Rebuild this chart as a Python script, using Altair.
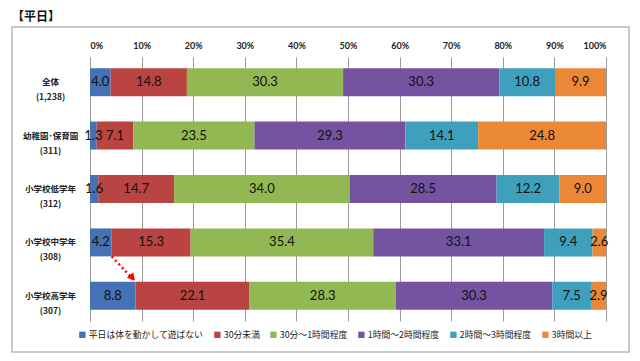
import altair as alt
import pandas as pd

title_text = "【平日】"
cats = ["全体", "幼稚園･保育園", "小学校低学年", "小学校中学年", "小学校高学年"]
ns = ["1,238", "311", "312", "308", "307"]
series = ["平日は体を動かして遊ばない", "30分未満", "30分～1時間程度",
          "1時間～2時間程度", "2時間～3時間程度", "3時間以上"]
s0 = [4.0, 1.3, 1.6, 4.2, 8.8]
s1 = [14.8, 7.1, 14.7, 15.3, 22.1]
s2 = [30.3, 23.5, 34.0, 35.4, 28.3]
s3 = [30.3, 29.3, 28.5, 33.1, 30.3]
s4 = [10.8, 14.1, 12.2, 9.4, 7.5]
s5 = [9.9, 24.8, 9.0, 2.6, 2.9]
colors = ["#4472B4", "#B94441", "#92B853", "#7454A0", "#3FA0BE", "#EA8838"]

all_series = [s0, s1, s2, s3, s4, s5]
row_labels = [f"{c}|({n})" for c, n in zip(cats, ns)]

rows = []
for si, (name, vals) in enumerate(zip(series, all_series)):
    for ci, lab in enumerate(row_labels):
        rows.append({"cat": lab, "series": name, "order": si, "value": vals[ci]})
df = pd.DataFrame(rows)

totals = [sum(v[i] for v in all_series) for i in range(len(cats))]
arrow = pd.DataFrame({
    "a": [row_labels[3]], "b": [row_labels[4]],
    "x1": [s0[3] / totals[3]], "x2": [s0[4] / totals[4]],
})

W, H = 516, 264


def yscale():
    return alt.Scale(domain=row_labels, paddingInner=0.476, paddingOuter=0.21)


base = alt.Chart(df).transform_stack(
    stack="value", groupby=["cat"], as_=["x0", "x1"],
    sort=[alt.SortField("order", "ascending")], offset="normalize",
).transform_calculate(mid="(datum.x0 + datum.x1) / 2")

bars = base.mark_bar().encode(
    y=alt.Y("cat:N", sort=None, scale=yscale(), title=None,
            axis=alt.Axis(labelExpr="split(datum.label, '|')", labelAlign="center",
                          labelPadding=40, ticks=False, domainColor="#999999",
                          labelFont="Noto Sans CJK JP", labelFontWeight="bold",
                          labelFontSize=8.5, labelLineHeight=15, labelColor="#222222",
                          labelBaseline="middle")),
    x=alt.X("x0:Q", scale=alt.Scale(domain=[0, 1]), title=None,
            axis=alt.Axis(orient="top", format=".0%", values=[i / 10 for i in range(11)],
                          domain=False, ticks=False, grid=True, gridColor="#9a9a9a",
                          labelFont="Lato", labelFontWeight="bold", labelFontSize=9,
                          labelColor="#222222", labelPadding=7)),
    x2="x1:Q",
    color=alt.Color("series:N", sort=series,
                    scale=alt.Scale(domain=series, range=colors),
                    legend=alt.Legend(orient="none", legendX=-12, legendY=H + 9,
                                      direction="horizontal", title=None,
                                      symbolType="square", symbolSize=40,
                                      labelFont="Noto Sans CJK JP", labelFontSize=8.8,
                                      labelColor="#222222", columnPadding=9,
                                      labelOffset=2)),
    order=alt.Order("order:Q"),
)

labels = base.mark_text(font="Lato", fontSize=13, color="#111111").encode(
    y=alt.Y("cat:N", sort=None, scale=yscale()),
    x=alt.X("mid:Q"),
    text=alt.Text("value:Q", format=".1f"),
)

arrow_line = alt.Chart(arrow).mark_rule(color="#FF0000", strokeWidth=2.5,
                                        strokeDash=[2, 3]).encode(
    y=alt.Y("a:N", sort=None, scale=yscale(), bandPosition=1),
    y2=alt.Y2("b:N", bandPosition=0),
    x="x1:Q", x2="x2:Q",
)
arrow_head = alt.Chart(arrow).mark_point(shape="triangle-down", filled=True, size=70,
                                         color="#FF0000", opacity=1, angle=319,
                                         xOffset=-3, yOffset=-4).encode(
    y=alt.Y("b:N", sort=None, scale=yscale(), bandPosition=0),
    x="x2:Q",
)

frame = alt.Chart(pd.DataFrame({"k": [0]})).mark_rect(
    fill=None, stroke="#b8b8b8", strokeWidth=1.5).encode(
    x=alt.value(-78), x2=alt.value(539), y=alt.value(-30), y2=alt.value(295))

title = alt.Chart(pd.DataFrame({"t": [title_text]})).mark_text(
    align="left", baseline="middle", font="Noto Sans CJK JP", fontSize=12,
    fontWeight="bold", color="#111111").encode(
    text="t:N", x=alt.value(-78), y=alt.value(-40))

chart = alt.layer(frame, bars, labels, arrow_line, arrow_head, title).properties(
    width=W, height=H,
    autosize=alt.AutoSizeParams(type="none"),
    padding={"left": 82, "top": 49, "right": 26, "bottom": 32},
).configure_view(stroke=None)

chart.save("out.html", embed_options={"renderer": "svg", "actions": False})
